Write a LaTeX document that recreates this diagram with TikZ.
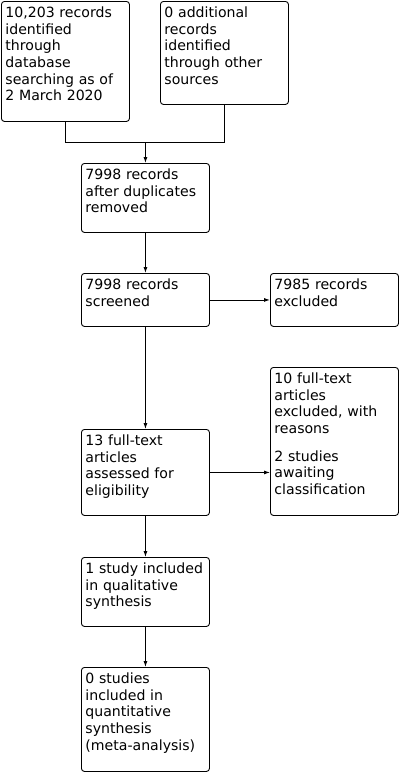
\documentclass[tikz,border=0pt]{standalone}
\usepackage{fontspec}
\setmainfont{DejaVu Sans}
\usetikzlibrary{arrows.meta}

\begin{document}
\begin{tikzpicture}[x=1pt, y=-1pt,
        box/.style={draw, line width=0.9pt, rounded corners=3pt, anchor=north west,
            inner xsep=4pt, inner ysep=0pt, text width=120pt, align=left,
            text height=16pt, font=\fontsize{14.1}{16.7}\selectfont},
        flow/.style={line width=0.9pt, -{Latex[length=6pt, width=4pt]}},
        link/.style={line width=0.9pt}]
            \useasboundingbox (0,0) rectangle (402,772);

            \node[box, text depth=104pt] at (1, 1)      (db)     {10,203 records\\ identified\\ through\\ database\\ searching as of\\ 2 March 2020};
            \node[box, text depth=87pt]  at (160, 1)    (other)  {0 additional\\ records\\ identified\\ through other\\ sources};

            \node[box, text depth=53pt]  at (81, 163)   (dupl)   {7998 records\\ after duplicates\\ removed};
            \node[box, text depth=37pt]  at (81, 273)   (screen) {7998 records\\ screened};
            \node[box, text depth=37pt]  at (270, 273)  (excl)   {7985 records\\ excluded};

            \node[box, text depth=132pt] at (270, 367)  (ftexcl) {10 full-text\\ articles\\ excluded, with\\ reasons\\[11pt] 2 studies\\ awaiting\\ classification};
            \node[box, text depth=70pt]  at (81, 429)   (elig)   {13 full-text\\ articles\\ assessed for\\ eligibility};

            \node[box, text depth=53pt]  at (81, 557)   (qual)   {1 study included\\ in qualitative\\ synthesis};
            \node[box, text depth=88pt]  at (81, 667)   (quant)  {0 studies\\ included in\\ quantitative\\ synthesis\\ (meta-analysis)};

            \coordinate (join) at ([yshift=21pt]dupl.north);

            \draw[link] (db.south) |- (join);
            \draw[link] (other.south) |- (join);
            \draw[flow] (join) -- (dupl.north);

            \draw[flow] (dupl) -- (screen);
            \draw[flow] (screen) -- (excl);
            \draw[flow] (screen) -- (elig);
            \draw[flow] (elig.east) -- (elig.east -| ftexcl.west);
            \draw[flow] (elig) -- (qual);
            \draw[flow] (qual) -- (quant);
        \end{tikzpicture}
\end{document}
